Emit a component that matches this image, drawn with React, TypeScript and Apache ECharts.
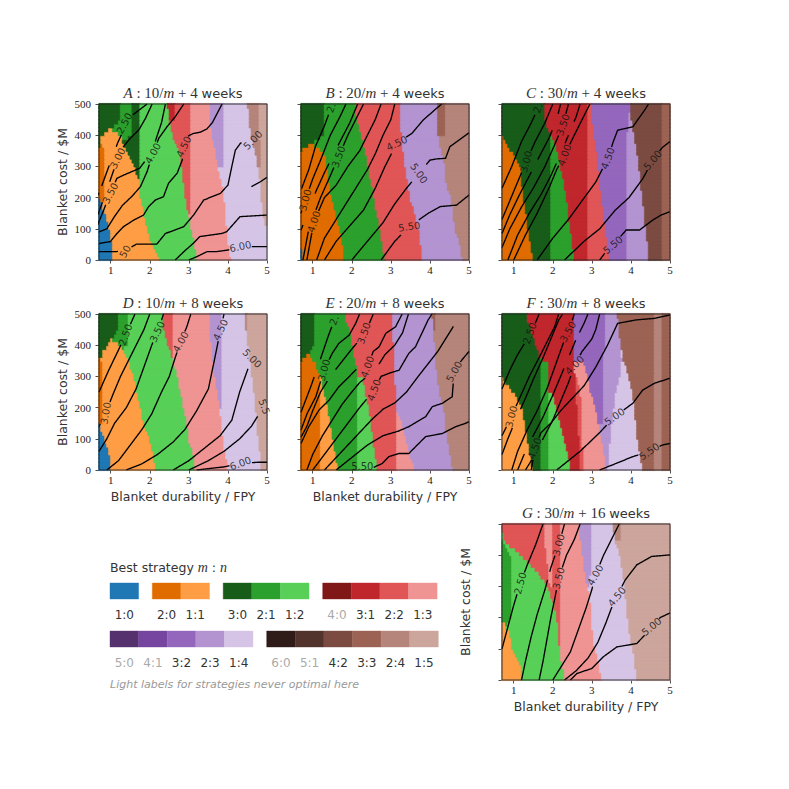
import React, { useEffect, useRef } from "react";
import * as echarts from "echarts";

// ---------------- strategies & colours ----------------
const STRATEGIES = ["1:0","2:0","1:1","3:0","2:1","1:2","4:0","3:1","2:2","1:3","5:0","4:1","3:2","2:3","1:4","6:0","5:1","4:2","3:3","2:4","1:5"];
const STRATEGY_COLORS = ["#1f77b4","#e06c00","#ff9d45","#185c1a","#2ca02c","#58d058","#801818","#c0272d","#e05556","#ef9493","#55316e","#7645a0","#9467bd","#b394d1","#d5c4e6","#2f1b18","#52342c","#7b4b41","#9c6354","#b5847a","#cca59c"];
const NEVER_OPTIMAL = ["4:0","5:0","4:1","6:0","5:1"];
const LEGEND_ROW1 = [["1:0"],["2:0","1:1"],["3:0","2:1","1:2"],["4:0","3:1","2:2","1:3"]];
const LEGEND_ROW2 = [["5:0","4:1","3:2","2:3","1:4"],["6:0","5:1","4:2","3:3","2:4","1:5"]];

// ---------------- axes ----------------
const X_MIN = 0.7, X_MAX = 5, Y_MIN = 0, Y_MAX = 500;
const X_TICKS = [1, 2, 3, 4, 5];
const Y_TICKS = [0, 100, 200, 300, 400, 500];
const BAND_LEVELS = [0, 50, 100, 150, 200, 250, 300, 350, 400, 450, 500];

// ---------------- panel titles ----------------
const PANEL_LETTERS = ["A","B","C","D","E","F","G"];
const PANEL_FACTORS = [10, 20, 30, 10, 20, 30, 30];
const PANEL_WEEKS = [4, 4, 4, 8, 8, 8, 16];

// ---------------- regions: [strategy, right boundary at BAND_LEVELS] ----------------
const A_BANDS = [
  ["1:0", [1.06,1.04,0.97,0.88,0.72,0.7,0.7,0.7,0.7,0.7,0.7]],
  ["3:0", [0.7,0.7,0.7,0.7,0.7,0.7,0.7,0.7,0.78,1.27,1.27]],
  ["2:0", [0.7,0.7,0.7,0.7,0.87,0.87,0.87,0.87,0.7,0.7,0.7]],
  ["1:1", [2.28,2.06,1.95,1.86,1.77,1.74,1.62,1.4,1.27,0.7,0.7]],
  ["2:1", [0.7,0.7,0.7,0.7,0.7,0.7,0.7,0.7,1.53,1.53,1.53]],
  ["3:0", [0.7,0.7,0.7,0.7,0.7,1.74,1.74,1.74,1.74,1.74,1.74]],
  ["1:2", [3.22,3.16,3.08,3.0,2.93,2.87,2.82,2.77,2.6,2.5,2.47]],
  ["3:1", [0.7,0.7,0.7,0.7,0.7,0.7,0.7,0.7,0.7,2.65,2.65]],
  ["2:2", [0.7,0.7,0.7,3.05,3.05,3.05,3.05,3.05,3.05,3.05,3.05]],
  ["1:3", [4.1,4.02,3.98,3.96,3.92,3.86,3.75,3.7,3.6,3.54,3.54]],
  ["2:3", [0.7,0.7,0.7,0.7,0.7,0.7,3.88,3.88,3.88,3.88,3.88]],
  ["1:4", [5,5,5,4.9,4.87,4.85,4.78,4.7,4.6,4.55,4.52]],
  ["2:4", [0.7,0.7,0.7,0.7,0.7,0.7,4.85,4.85,4.82,4.8,4.79]],
  ["1:5", [5,5,5,5,5,5,5,5,5,5,5]],
];
const B_BANDS = [
  ["1:0", [0.77,0.7,0.7,0.7,0.7,0.7,0.7,0.7,0.7,0.7,0.7]],
  ["3:0", [0.7,0.7,0.7,0.7,0.7,0.7,0.7,0.7,1.28,1.28,1.28]],
  ["2:0", [1.83,1.78,1.7,1.6,1.5,1.43,1.38,1.3,0.7,0.7,0.7]],
  ["2:1", [2.86,2.79,2.72,2.65,2.57,2.5,2.43,2.36,2.25,2.15,2.08]],
  ["2:2", [3.83,3.78,3.72,3.62,3.5,3.45,3.38,3.33,3.28,3.26,3.24]],
  ["2:3", [4.85,4.78,4.65,4.6,4.55,4.42,4.4,4.3,4.22,4.22,4.22]],
  ["3:3", [0.7,0.7,0.7,0.7,0.7,0.7,0.7,0.7,4.4,4.4,4.4]],
  ["2:4", [5,5,5,5,5,5,5,5,5,5,5]],
];
const C_BANDS = [
  ["2:0", [1.49,1.45,1.38,1.32,1.25,1.22,1.2,0.95,0.7,0.7,0.7]],
  ["3:0", [1.96,1.96,1.96,1.96,1.96,1.96,1.96,1.96,1.96,1.82,1.79]],
  ["2:1", [2.56,2.52,2.45,2.4,2.36,2.3,2.2,2.14,1.98,0.7,0.7]],
  ["3:1", [2.88,2.88,2.88,2.88,2.88,2.88,2.88,2.88,2.88,2.9,2.92]],
  ["2:2", [3.45,3.4,3.35,3.3,3.25,3.2,3.17,3.12,3.06,3.02,3.0]],
  ["3:2", [3.92,3.92,3.92,3.92,3.92,3.92,3.92,3.92,3.92,3.95,4.0]],
  ["2:3", [4.47,4.45,4.38,4.35,4.3,4.25,4.22,4.15,4.1,4.02,4.0]],
  ["4:2", [4.81,4.81,4.81,4.81,4.81,4.81,4.81,4.81,4.81,4.81,4.81]],
  ["3:3", [5,5,5,5,5,5,5,5,5,5,5]],
];
const D_BANDS = [
  ["1:0", [0.98,0.98,0.85,0.72,0.7,0.7,0.7,0.7,0.7,0.7,0.7]],
  ["3:0", [0.7,0.7,0.7,0.7,0.7,0.7,0.7,0.7,0.9,1.21,1.21]],
  ["2:0", [0.7,0.7,0.7,0.78,0.78,0.78,0.78,0.78,0.7,0.7,0.7]],
  ["1:1", [2.15,2.1,2.0,1.85,1.77,1.68,1.6,1.47,1.3,0.7,0.7]],
  ["2:1", [0.7,0.7,0.7,0.7,0.7,0.7,0.7,0.7,1.47,1.47,1.47]],
  ["1:2", [3.17,3.12,3.0,2.96,2.87,2.8,2.72,2.6,2.48,2.38,2.32]],
  ["2:2", [0.7,0.7,0.7,0.7,0.7,0.7,0.7,2.62,2.62,2.62,2.62]],
  ["1:3", [4.02,3.95,3.88,3.85,3.8,3.74,3.68,3.62,3.58,3.56,3.55]],
  ["2:3", [0.7,0.7,0.7,0.7,3.86,3.86,3.86,3.86,3.86,3.86,3.86]],
  ["1:4", [4.87,4.85,4.78,4.74,4.72,4.68,4.62,4.57,4.53,4.47,4.42]],
  ["2:4", [0.7,0.7,0.7,0.7,0.7,0.7,0.7,0.7,4.5,4.5,4.5]],
  ["1:5", [5,5,5,5,5,5,5,5,5,5,5]],
];
const E_BANDS = [
  ["3:0", [0.7,0.7,0.7,0.7,0.7,0.7,0.7,0.7,1.07,1.07,1.07]],
  ["2:0", [1.2,1.2,1.2,1.2,1.2,1.2,1.2,1.07,0.7,0.7,0.7]],
  ["1:1", [1.66,1.6,1.52,1.45,1.4,1.3,1.22,0.7,0.7,0.7,0.7]],
  ["2:1", [2.17,2.17,2.17,2.17,2.17,2.17,2.17,2.1,2.02,1.95,1.82]],
  ["3:1", [0.7,0.7,0.7,0.7,0.7,0.7,0.7,0.7,0.7,0.7,1.98]],
  ["1:2", [2.67,2.6,2.55,2.5,2.45,2.35,2.3,0.7,0.7,0.7,0.7]],
  ["2:2", [3.15,3.15,3.15,3.15,3.15,3.13,3.12,3.1,3.08,3.05,3.03]],
  ["1:3", [3.62,3.5,3.4,3.3,3.15,0.7,0.7,0.7,0.7,0.7,0.7]],
  ["2:3", [4.6,4.52,4.46,4.4,4.36,4.25,4.2,4.15,4.13,4.1,4.07]],
  ["3:3", [0.7,0.7,0.7,0.7,0.7,0.7,0.7,0.7,0.7,4.13,4.13]],
  ["2:4", [5,5,5,5,5,5,5,5,5,5,5]],
];
const F_BANDS = [
  ["1:1", [1.49,1.42,1.36,1.3,1.22,1.0,0.7,0.7,0.7,0.7,0.7]],
  ["3:0", [1.7,1.7,1.7,1.7,1.7,1.7,1.7,1.7,1.58,1.45,1.32]],
  ["2:1", [1.88,1.88,1.88,1.88,1.88,1.88,1.88,1.88,0.7,0.7,0.7]],
  ["1:2", [2.48,2.4,2.3,2.2,2.1,2.0,0.7,0.7,0.7,0.7,0.7]],
  ["3:1", [2.7,2.69,2.68,2.66,2.63,2.6,2.58,2.56,2.56,2.56,2.56]],
  ["2:2", [2.78,2.78,2.77,2.76,2.75,2.72,2.62,0.7,0.7,0.7,0.7]],
  ["1:3", [3.37,3.32,3.25,3.18,3.1,2.98,2.9,2.8,0.7,0.7,0.7]],
  ["3:2", [0.7,0.7,0.7,3.3,3.3,3.3,3.3,3.3,3.33,3.35,3.37]],
  ["2:3", [3.42,3.45,3.48,3.52,3.58,3.62,3.72,3.78,3.75,3.7,3.66]],
  ["1:4", [4.3,4.25,4.18,4.13,4.1,4.05,3.95,3.83,3.76,0.7,0.7]],
  ["3:3", [4.6,4.6,4.6,4.6,4.6,4.6,4.6,4.6,4.6,4.6,4.6]],
  ["2:4", [4.82,4.82,4.82,4.82,4.82,4.82,4.82,4.82,4.82,4.82,4.82]],
  ["3:3", [5,5,5,5,5,5,5,5,5,5,5]],
];
const G_BANDS = [
  ["1:1", [1.22,1.2,0.98,0.9,0.7,0.7,0.7,0.7,0.7,0.7,0.7]],
  ["2:1", [0.7,0.7,0.7,0.7,0.93,0.93,0.93,0.93,0.93,0.7,0.7]],
  ["1:2", [2.32,2.25,2.18,2.15,2.12,2.02,1.9,1.6,1.21,0.75,0.7]],
  ["2:2", [0.7,0.7,0.7,0.7,0.7,0.7,1.93,1.9,1.85,1.8,1.8]],
  ["1:3", [0.7,0.7,0.7,0.7,0.7,0.7,2.0,2.02,2.02,2.02,2.02]],
  ["2:2", [0.7,0.7,2.19,2.19,2.19,2.19,2.19,2.19,2.19,2.19,2.19]],
  ["1:3", [3.25,3.2,3.1,3.03,3.0,2.98,2.9,2.83,2.78,2.72,2.7]],
  ["2:3", [0.7,0.7,0.7,0.7,0.7,0.7,2.96,2.98,2.98,2.98,3.0]],
  ["1:4", [4.15,4.12,4.05,3.98,3.92,3.88,3.85,3.8,3.72,3.6,3.55]],
  ["2:4", [0.7,0.7,0.7,0.7,0.7,0.7,0.7,0.7,0.7,3.77,3.77]],
  ["1:5", [5,5,5,5,5,5,5,5,5,5,5]],
];

// ---------------- contour lines ([x, y] points) ----------------
const A_LINES = [
  [[0.6,190],[0.73,224],[0.95,299],[1.18,376],[1.48,457],[1.93,500]],
  [[0.6,125],[0.7,155],[0.9,224],[1.06,282],[1.29,358],[1.5,390],[1.72,417],[1.89,454],[2.06,500]],
  [[0.6,95],[0.7,123],[0.82,160],[0.95,203],[1.16,262],[1.33,272],[1.74,294],[1.93,326],[2.14,380],[2.3,440],[2.4,500]],
  [[0.7,90],[0.9,100],[1.1,140],[1.3,175],[1.55,205],[1.76,235],[1.93,283],[2.08,342],[2.23,390],[2.44,427],[2.65,459],[2.87,500]],
  [[0.7,53],[0.99,59],[1.16,85],[1.33,107],[1.59,128],[1.84,144],[1.97,171],[2.14,192],[2.35,203],[2.48,246],[2.7,278],[2.83,320],[2.87,363],[2.95,395],[3.1,405],[3.3,410],[3.46,420],[3.6,440],[3.85,500]],
  [[0.7,27],[1.15,27],[1.37,30],[1.66,51],[2.18,51],[2.4,85],[2.87,107],[3.12,144],[3.38,192],[3.81,214],[4.0,240],[4.1,300],[4.19,352],[4.32,374],[4.45,386]],
  [[4.6,235],[4.82,250],[5.0,265]],
  [[2.65,0],[2.9,30],[3.11,53],[3.28,75],[3.84,85],[3.97,91],[4.31,139],[5.0,144]],
  [[3.0,0],[3.21,11],[3.47,27],[3.72,27],[4.0,32],[4.28,43],[4.83,43],[5.0,43]],
];
const A_LABELS = [["2.50",1.35,438,62],["3.00",1.18,326,62],["3.50",0.99,214,62],["4.00",2.08,342,60],["4.50",2.87,363,65],["50",1.37,27,60],["5.00",4.64,384,45],["6.00",4.32,43,12]];

const B_LINES = [
  [[0.7,224],[0.9,290],[1.07,364],[1.3,430],[1.47,488],[1.55,500]],
  [[0.7,150],[0.81,192],[1.0,260],[1.2,320],[1.45,400],[1.7,460],[1.85,500]],
  [[0.7,95],[0.8,130],[0.95,180],[1.1,225],[1.3,280],[1.5,330],[1.7,380],[1.95,440],[2.15,500]],
  [[0.75,0],[0.9,100],[1.2,200],[1.45,270],[1.66,331],[1.9,400],[2.1,450],[2.3,500]],
  [[0.85,0],[1.03,123],[1.3,200],[1.6,240],[1.9,300],[2.2,350],[2.4,400],[2.6,450],[2.75,500]],
  [[1.1,0],[1.3,70],[1.55,120],[1.8,170],[2.1,230],[2.4,290],[2.6,340],[2.8,400],[3.0,450],[3.1,500]],
  [[1.3,0],[1.6,60],[1.95,110],[2.3,160],[2.6,230],[2.85,300],[3.15,374],[3.54,406],[3.83,449],[4.17,486],[4.3,500]],
  [[2.0,0],[2.4,60],[2.8,120],[3.1,180],[3.4,230],[3.72,278],[4.0,320],[4.17,324],[4.4,326],[4.51,363],[4.98,406],[5.0,408]],
  [[2.75,0],[3.1,60],[3.47,107],[3.96,150],[4.26,171],[4.68,176],[5.0,208]],
];
const B_LABELS = [["2.",1.47,488,70],["3.00",0.81,192,75],["4.00",1.03,123,72],["3.50",1.66,331,70],["4.50",3.15,374,25],["5.00",3.72,278,-55],["5.50",3.47,107,8]];

const C_LINES = [
  [[0.7,230],[0.95,300],[1.2,380],[1.45,440],[1.62,486],[1.7,500]],
  [[0.7,130],[0.9,190],[1.1,250],[1.32,315],[1.55,380],[1.8,440],[2.0,500]],
  [[0.7,85],[0.9,145],[1.15,210],[1.4,270],[1.65,330],[1.9,390],[2.1,450],[2.2,500]],
  [[0.7,40],[0.9,100],[1.2,170],[1.5,230],[1.8,300],[2.05,370],[2.26,433],[2.4,500]],
  [[0.85,0],[1.1,80],[1.4,150],[1.7,210],[1.95,270],[2.2,340],[2.4,400],[2.6,460],[2.7,500]],
  [[1.0,0],[1.3,80],[1.6,150],[1.9,230],[2.1,290],[2.3,336],[2.55,400],[2.75,450],[2.95,500]],
  [[1.6,0],[2.0,70],[2.4,130],[2.75,190],[3.1,250],[3.41,326],[3.55,380],[3.66,416],[4.05,427],[4.2,454],[4.35,480],[4.45,500]],
  [[2.3,0],[2.8,60],[3.2,100],[3.6,160],[3.95,200],[4.3,260],[4.56,320],[4.8,360],[5.0,380]],
  [[3.2,0],[3.35,25],[3.54,48],[3.88,96],[4.22,96],[4.56,128],[4.77,144],[5.0,155]],
];
const C_LABELS = [["2.",1.62,486,70],["3.00",1.32,315,75],["3.50",2.26,433,70],["4.00",2.3,336,70],["4.50",3.41,326,70],["5.00",4.56,320,50],["5.50",3.54,48,40]];

const D_LINES = [
  [[0.7,250],[0.95,320],[1.2,385],[1.38,433],[1.55,480],[1.62,500]],
  [[0.7,140],[0.87,182],[1.05,240],[1.25,300],[1.45,350],[1.65,400],[1.85,450],[2.0,500]],
  [[0.7,60],[0.9,100],[1.1,150],[1.4,200],[1.65,260],[1.85,330],[2.05,400],[2.19,443],[2.3,480],[2.35,500]],
  [[0.9,0],[1.2,30],[1.5,80],[1.8,130],[2.05,180],[2.3,250],[2.5,300],[2.65,360],[2.79,411],[2.95,460],[3.05,500]],
  [[1.4,0],[1.8,20],[2.2,50],[2.6,90],[2.9,130],[3.2,190],[3.5,260],[3.65,350],[3.81,449],[3.9,500]],
  [[2.6,0],[3.0,30],[3.4,70],[3.8,110],[4.1,160],[4.3,250],[4.5,320],[4.62,358],[4.75,390]],
  [[3.0,0],[3.5,30],[3.9,60],[4.3,100],[4.6,140],[4.8,180],[4.93,203],[5.0,215]],
  [[3.2,0],[3.9,10],[4.32,21],[4.8,25],[5.0,25]],
];
const D_LABELS = [["2.50",1.38,433,70],["3.00",0.87,182,80],["3.50",2.19,443,65],["4.00",2.79,411,60],["4.50",3.81,449,65],["5.00",4.62,358,-45],["5.5",4.93,203,-70],["6.00",4.32,21,20]];

const E_LINES = [
  [[0.7,185],[0.95,267],[1.16,342],[1.4,430],[1.55,480],[1.65,500]],
  [[0.7,128],[0.86,182],[1.08,235],[1.29,320],[1.5,374],[1.67,406],[1.93,432],[2.1,470],[2.2,500]],
  [[0.7,105],[0.85,140],[1.0,190],[1.2,250],[1.45,300],[1.7,340],[1.95,380],[2.15,410],[2.31,438],[2.45,470],[2.55,500]],
  [[0.7,85],[0.9,139],[1.16,192],[1.42,224],[1.67,267],[1.93,299],[2.14,326],[2.4,331],[2.55,380],[2.7,395],[2.87,438],[3.12,459],[3.29,500]],
  [[0.85,0],[1.0,50],[1.25,110],[1.5,160],[1.75,210],[2.0,250],[2.2,280],[2.6,320],[2.85,370],[3.1,400],[3.3,440],[3.45,500]],
  [[1.0,0],[1.3,50],[1.6,100],[1.9,150],[2.2,200],[2.4,230],[2.57,256],[2.75,300],[2.95,310],[3.21,320],[3.46,374],[3.63,395],[3.8,440],[3.95,480],[4.05,500]],
  [[1.3,0],[1.6,40],[1.9,80],[2.2,120],[2.5,160],[2.8,195],[3.1,215],[3.4,250],[3.7,300],[3.95,340],[4.2,380],[4.4,420],[4.6,460]],
  [[1.6,0],[2.0,40],[2.4,80],[2.8,110],[3.2,125],[3.46,139],[3.89,171],[4.06,203],[4.32,214],[4.57,235],[4.62,315],[4.8,350],[5.0,380]],
  [[2.5,5],[2.78,21],[2.95,43],[3.21,53],[3.46,53],[3.89,107],[4.32,117],[4.66,139],[4.92,150],[5.0,155]],
];
const E_LABELS = [["2.",1.55,480,70],["3.00",1.29,320,75],["3.50",2.31,438,70],["4.00",2.4,331,70],["4.50",2.57,256,70],["5.00",4.62,315,60],["5.50",2.27,11,0]];

const F_LINES = [
  [[0.7,260],[0.9,320],[1.1,370],[1.25,400],[1.41,438],[1.55,470],[1.65,500]],
  [[0.7,110],[0.94,171],[1.15,230],[1.4,300],[1.65,360],[1.85,410],[2.05,460],[2.15,500]],
  [[0.7,50],[0.85,100],[1.05,160],[1.3,230],[1.5,290],[1.75,360],[1.95,420],[2.15,480],[2.25,500]],
  [[0.95,0],[1.1,60],[1.35,130],[1.6,190],[1.85,260],[2.05,330],[2.25,400],[2.39,443],[2.5,480],[2.55,500]],
  [[1.1,0],[1.3,60],[1.5,110],[1.75,170],[2.0,240],[2.2,300],[2.4,360],[2.6,420],[2.8,470],[2.9,500]],
  [[1.3,0],[1.5,40],[1.75,100],[2.0,160],[2.2,220],[2.4,280],[2.56,336],[2.75,380],[3.0,420],[3.1,450],[3.2,500]],
  [[1.45,0],[1.54,69],[1.7,120],[1.95,150],[2.2,190],[2.5,230],[2.8,270],[3.1,330],[3.4,400],[3.66,470],[4.13,481],[4.6,486],[5.0,497]],
  [[2.1,0],[2.7,60],[3.2,120],[3.58,171],[4.05,214],[4.3,256],[4.6,278],[5.0,294]],
  [[3.2,0],[3.62,21],[4.05,43],[4.47,59],[4.8,80],[5.0,85]],
];
const F_LABELS = [["2.50",1.41,438,70],["3.00",0.94,171,75],["3.50",2.39,443,60],["4.00",2.56,336,45],["4.50",1.54,69,70],["5.00",3.58,171,35],["5.50",4.47,59,35]];

const G_LINES = [
  [[0.7,100],[0.85,170],[1.0,240],[1.17,310],[1.35,370],[1.55,430],[1.75,500]],
  [[1.2,0],[1.3,60],[1.45,140],[1.6,210],[1.8,290],[1.95,360],[2.15,433],[2.3,500]],
  [[1.65,0],[1.75,60],[1.85,130],[1.95,200],[2.05,260],[2.15,326],[2.35,400],[2.55,450],[2.7,500]],
  [[2.0,0],[2.2,40],[2.45,90],[2.65,160],[2.85,230],[3.0,290],[3.09,336],[3.3,400],[3.5,450],[3.7,500]],
  [[2.3,0],[2.6,30],[2.9,70],[3.15,120],[3.35,180],[3.5,230],[3.64,267],[3.85,320],[4.15,369],[4.53,396],[5.0,401]],
  [[2.45,0],[2.62,21],[3.0,37],[3.3,75],[3.64,106],[4.15,117],[4.4,150],[4.53,171],[4.75,200],[5.0,215]],
];
const G_LABELS = [["2.50",1.17,310,75],["3.00",2.15,433,75],["3.50",2.15,326,75],["4.00",3.09,336,60],["4.50",3.64,267,50],["5.00",4.53,171,40]];

const ALL_BANDS = [A_BANDS, B_BANDS, C_BANDS, D_BANDS, E_BANDS, F_BANDS, G_BANDS];
const ALL_LINES = [A_LINES, B_LINES, C_LINES, D_LINES, E_LINES, F_LINES, G_LINES];
const ALL_LABELS = [A_LABELS, B_LABELS, C_LABELS, D_LABELS, E_LABELS, F_LABELS, G_LABELS];

// ---------------- layout (styles) ----------------
const PANEL_LEFT = [99, 301, 502, 99, 301, 502, 502];
const PANEL_TOP = [104, 104, 104, 314, 314, 314, 524];
const PW = 168, PH = 156;
const SHOW_Y_NUMBERS = [true, false, false, true, false, false, false];
const Y_NAME_PANELS = [0, 3, 6];
const X_NAME_PANELS = [3, 4, 6];
const LABEL_GAP_PX = 11;

const SANS = "'DejaVu Sans', sans-serif";
const SERIF = "'Liberation Serif', 'DejaVu Serif', serif";

const SX = PW / (X_MAX - X_MIN), SY = PH / (Y_MAX - Y_MIN);

function bandRects(bands: any[]) {
  const out: number[][] = [];
  const step = 12.5;
  for (let r = 0; r < 40; r++) {
    const y0 = r * step;
    const yc = y0 + step / 2;
    let prev = X_MIN;
    bands.forEach((b: any, bi: number) => {
      const bounds = b[1];
      const k = Math.min(Math.floor(yc / 50), BAND_LEVELS.length - 2);
      const t = (yc - BAND_LEVELS[k]) / 50;
      let v = bounds[k] * (1 - t) + bounds[k + 1] * t;
      v = Math.round(v / 0.05) * 0.05;
      if (bi === bands.length - 1) v = X_MAX;
      v = Math.min(Math.max(v, prev), X_MAX);
      if (v > prev + 1e-9) out.push([prev, v, y0, y0 + step, STRATEGIES.indexOf(b[0])]);
      prev = v;
    });
  }
  return out;
}

// split a contour line where its labels sit (inline label gaps)
function lineSegments(pts: number[][], labels: any[]) {
  const dense: number[][] = [];
  for (let i = 0; i < pts.length - 1; i++) {
    const [x0, y0] = pts[i], [x1, y1] = pts[i + 1];
    const len = Math.hypot((x1 - x0) * SX, (y1 - y0) * SY);
    const n = Math.max(1, Math.ceil(len / 1.5));
    for (let k = 0; k < n; k++) dense.push([x0 + (x1 - x0) * k / n, y0 + (y1 - y0) * k / n]);
  }
  dense.push(pts[pts.length - 1]);
  const segs: number[][][] = [];
  let cur: number[][] = [];
  dense.forEach((p) => {
    const hit = labels.some((l: any) => Math.hypot((p[0] - l[1]) * SX, (p[1] - l[2]) * SY) < LABEL_GAP_PX * (l[0].length > 2 ? 1 : 0.6));
    if (hit) { if (cur.length > 1) segs.push(cur); cur = []; }
    else cur.push(p);
  });
  if (cur.length > 1) segs.push(cur);
  return segs;
}

function buildOption() {
  const grid: any[] = [], xAxis: any[] = [], yAxis: any[] = [], series: any[] = [], elements: any[] = [];
  for (let i = 0; i < 7; i++) {
    grid.push({ left: PANEL_LEFT[i], top: PANEL_TOP[i], width: PW, height: PH, containLabel: false });
    xAxis.push({
      type: "value", gridIndex: i, min: X_MIN, max: X_MAX,
      axisLine: { show: false }, splitLine: { show: false },
      axisTick: { show: true, customValues: X_TICKS, length: 3.5, lineStyle: { color: "#222", width: 0.8 } },
      axisLabel: { customValues: X_TICKS, margin: 4, fontFamily: SERIF, fontSize: 11, color: "#222",
        formatter: (v: number) => (Math.abs(v - Math.round(v)) < 1e-6 ? String(Math.round(v)) : "") },
    });
    yAxis.push({
      type: "value", gridIndex: i, min: Y_MIN, max: Y_MAX, interval: 100,
      axisLine: { show: false }, splitLine: { show: false },
      axisTick: { show: true, customValues: Y_TICKS, length: 3.5, lineStyle: { color: "#222", width: 0.8 } },
      axisLabel: { show: SHOW_Y_NUMBERS[i], customValues: Y_TICKS, margin: 8, fontFamily: SERIF, fontSize: 11, color: "#222" },
    });
    series.push({
      type: "custom", xAxisIndex: i, yAxisIndex: i, silent: true, z: 1,
      data: bandRects(ALL_BANDS[i]),
      encode: { x: [0, 1], y: [2, 3] },
      renderItem: (params: any, api: any) => {
        const p0 = api.coord([api.value(0), api.value(3)]);
        const p1 = api.coord([api.value(1), api.value(2)]);
        const c = STRATEGY_COLORS[api.value(4)];
        return { type: "rect",
          shape: { x: p0[0] - 0.3, y: p0[1] - 0.6, width: p1[0] - p0[0] + 0.6, height: p1[1] - p0[1] + 1.2 },
          style: { fill: c, stroke: c, lineWidth: 0.6 } };
      },
    });
    ALL_LINES[i].forEach((ln: any) => {
      lineSegments(ln, ALL_LABELS[i]).forEach((seg) => {
        series.push({
          type: "line", xAxisIndex: i, yAxisIndex: i, silent: true, z: 3, clip: true,
          data: seg, showSymbol: false, symbol: "none", smooth: 0.3,
          lineStyle: { color: "#000", width: 1.35 },
        });
      });
    });
    series.push({
      type: "scatter", xAxisIndex: i, yAxisIndex: i, silent: true, z: 6, symbolSize: 2,
      clip: false,
      itemStyle: { color: "rgba(0,0,0,0)" },
      labelLayout: { hideOverlap: false },
      label: { show: true, position: "inside", color: "#111", fontFamily: SANS, fontSize: 10 },
      data: ALL_LABELS[i].map((l: any) => ({ value: [l[1], l[2]], name: l[0],
        label: { show: true, formatter: l[0], rotate: l[3] } })),
    });
    // frame
    elements.push({ type: "rect", z: 50, silent: true,
      shape: { x: PANEL_LEFT[i], y: PANEL_TOP[i], width: PW, height: PH },
      style: { fill: "none", stroke: "#222", lineWidth: 0.9 } });
    // title
    elements.push({ type: "text", z: 50, silent: true,
      x: PANEL_LEFT[i] + PW / 2, y: PANEL_TOP[i] - 11,
      style: {
        text: `{i|${PANEL_LETTERS[i]}}{n| : ${PANEL_FACTORS[i]}/}{i|m}{n| + ${PANEL_WEEKS[i]} }{s|weeks}`,
        textAlign: "center", textVerticalAlign: "middle", align: "center", verticalAlign: "middle",
        rich: {
          i: { fontFamily: SERIF, fontStyle: "italic", fontSize: 15, fill: "#333", color: "#333" },
          n: { fontFamily: SERIF, fontSize: 15, fill: "#333", color: "#333" },
          s: { fontFamily: SANS, fontSize: 13, fill: "#333", color: "#333" },
        },
      } });
  }
  Y_NAME_PANELS.forEach((i) => {
    elements.push({ type: "text", z: 50, silent: true, rotation: Math.PI / 2,
      x: PANEL_LEFT[i] - 37, y: PANEL_TOP[i] + PH / 2,
      style: { text: "Blanket cost / $M", font: `12.5px ${SANS}`, fill: "#333",
        textAlign: "center", textVerticalAlign: "middle", align: "center", verticalAlign: "middle" } });
  });
  X_NAME_PANELS.forEach((i) => {
    elements.push({ type: "text", z: 50, silent: true,
      x: PANEL_LEFT[i] + PW / 2, y: PANEL_TOP[i] + PH + 26,
      style: { text: "Blanket durability / FPY", font: `12.5px ${SANS}`, fill: "#333",
        textAlign: "center", textVerticalAlign: "middle", align: "center", verticalAlign: "middle" } });
  });
  // legend
  elements.push({ type: "text", z: 50, silent: true, x: 110, y: 567,
    style: { text: "Best strategy {i|m} : {i|n}", font: `12.5px ${SANS}`, fill: "#333",
      textAlign: "left", textVerticalAlign: "middle", align: "left", verticalAlign: "middle",
      rich: { i: { fontFamily: SERIF, fontStyle: "italic", fontSize: 14, fill: "#333", color: "#333" } } } });
  const SW = 28.6, GAP = 13.7, SH = 16;
  const rows = [[LEGEND_ROW1, 583, 614.5], [LEGEND_ROW2, 631, 662.5]];
  rows.forEach((row: any) => {
    let x = 110;
    row[0].forEach((group: string[]) => {
      group.forEach((code: string) => {
        const idx = STRATEGIES.indexOf(code);
        elements.push({ type: "rect", z: 50, silent: true, shape: { x, y: row[1], width: SW, height: SH },
          style: { fill: STRATEGY_COLORS[idx], stroke: STRATEGY_COLORS[idx], lineWidth: 0.4 } });
        elements.push({ type: "text", z: 50, silent: true, x: x + SW / 2, y: row[2],
          style: { text: code, font: `12px ${SANS}`, fill: NEVER_OPTIMAL.includes(code) ? "#aaaaaa" : "#333",
            textAlign: "center", textVerticalAlign: "middle", align: "center", verticalAlign: "middle" } });
        x += SW;
      });
      x += GAP;
    });
  });
  elements.push({ type: "text", z: 50, silent: true, x: 110, y: 684,
    style: { text: "Light labels for strategies never optimal here", font: `italic 11px ${SANS}`, fill: "#999",
      textAlign: "left", textVerticalAlign: "middle", align: "left", verticalAlign: "middle" } });

  return { animation: false, backgroundColor: "#fff", grid, xAxis, yAxis, series, graphic: { elements } };
}

export default function App() {
  const ref = useRef<HTMLDivElement>(null);
  useEffect(() => {
    if (!ref.current) return;
    const chart = echarts.init(ref.current, null, { renderer: "svg" });
    chart.setOption(buildOption());
    return () => chart.dispose();
  }, []);
  return <div ref={ref} style={{ position: "absolute", left: 0, top: 0, width: 789, height: 789 }} />;
}
